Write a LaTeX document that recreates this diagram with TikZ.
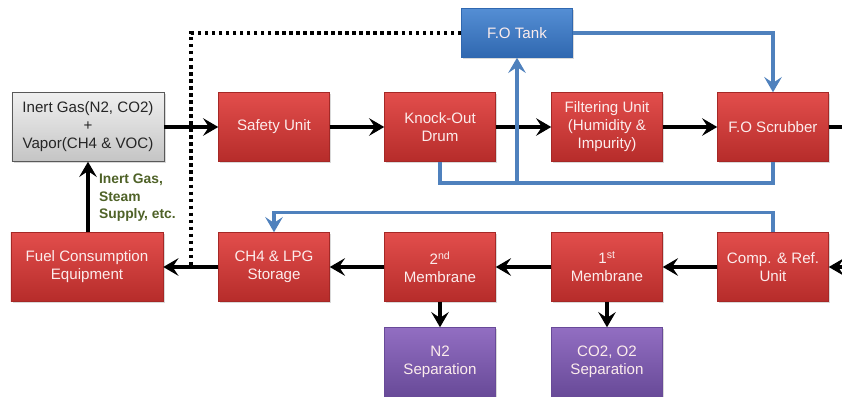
\documentclass[tikz,border=0pt]{standalone}
\usepackage{fontspec}
\setmainfont{Liberation Sans}
\usetikzlibrary{arrows.meta,positioning,shadows}
\definecolor{redtop}{RGB}{226,78,76}
\definecolor{redbot}{RGB}{182,44,42}
\definecolor{redline}{RGB}{165,40,38}
\definecolor{bluetop}{RGB}{84,142,212}
\definecolor{bluebot}{RGB}{48,104,176}
\definecolor{purptop}{RGB}{146,110,194}
\definecolor{purpbot}{RGB}{104,74,152}
\definecolor{flowblue}{RGB}{79,129,189}
\definecolor{olive}{RGB}{79,98,40}
\definecolor{boxtext}{RGB}{252,236,236}

\begin{document}
\begin{tikzpicture}[x=0.03cm,y=-0.03cm,
  unit/.style={draw=redline,line width=0.4pt,top color=redtop,bottom color=redbot,
    text=boxtext,minimum width=3.33cm,minimum height=2.07cm,align=center,
    font=\fontsize{12.9}{15.3}\selectfont,
    drop shadow={shadow xshift=1.5pt,shadow yshift=-1.5pt,opacity=0.3}},
  tankbox/.style={unit,draw=bluebot,top color=bluetop,bottom color=bluebot,minimum height=1.47cm},
  sepbox/.style={unit,draw=purpbot,top color=purptop,bottom color=purpbot},
  gasbox/.style={unit,draw=black!65,top color=white!94!black,bottom color=black!23,text=black!85,minimum width=4.56cm},
  arr/.style={line width=3.2pt,-{Stealth[length=13pt,width=15pt,inset=5pt]}},
  bline/.style={draw=flowblue,line width=3pt},
  barr/.style={bline,-{Stealth[length=13pt,width=15pt,inset=5pt]}},
  dots/.style={line width=3.2pt,dash pattern=on 3pt off 3pt}]

\useasboundingbox (0,0) rectangle (842,397);

% top row
\node[gasbox] (gas) at (88,127) {Inert Gas(N2, CO2)\\+\\Vapor(CH4 \& VOC)};
\node[unit] (safety) at (274,127) {Safety Unit};
\node[unit] (ko) at (440,127) {Knock-Out\\Drum};
\node[unit] (filter) at (607,127) {Filtering Unit\\(Humidity \&\\Impurity)};
\node[unit] (scrub) at (773,127) {F.O Scrubber};
\node[tankbox] (tank) at (517,33) {F.O Tank};

% bottom row
\node[unit,minimum width=4.56cm] (fuel) at (87,267) {Fuel Consumption\\Equipment};
\node[unit] (lpg) at (274,267) {CH4 \& LPG\\Storage};
\node[unit] (mem2) at (440,267) {2\textsuperscript{nd}\\Membrane};
\node[unit] (mem1) at (607,267) {1\textsuperscript{st}\\Membrane};
\node[unit] (comp) at (773,267) {Comp. \& Ref.\\Unit};
\node[sepbox] (n2sep) at (440,362) {N2\\Separation};
\node[sepbox] (co2sep) at (607,362) {CO2, O2\\Separation};

\node[text=olive,font=\fontsize{11.8}{15}\selectfont\bfseries,align=left,anchor=north west]
  (supply) at (95,170) {Inert Gas,\\Steam\\Supply, etc.};

\coordinate (outR) at (842,127);
\coordinate (inR) at (842,267);
\coordinate (bjoin) at (517,183);
\coordinate (dotend) at (191,267);

\draw[arr] (gas) -- (safety);
\draw[arr] (safety) -- (ko);
\draw[arr] (ko) -- (filter);
\draw[arr] (filter) -- (scrub);
\draw[line width=3.2pt] (scrub) -- (outR);

\draw[arr] (inR) -- (comp);
\draw[arr] (comp) -- (mem1);
\draw[arr] (mem1) -- (mem2);
\draw[arr] (mem2) -- (lpg);
\draw[arr] (lpg) -- (fuel);
\draw[arr] (mem2) -- (n2sep);
\draw[arr] (mem1) -- (co2sep);
\draw[arr] (fuel.north -| gas.south) -- (gas.south);

\draw[dots] (tank.west) -| (dotend);

\draw[barr] (tank.east) -| (scrub.north);
\draw[bline] (ko.south) |- (bjoin) -| (scrub.south);
\draw[barr] (bjoin) -- (tank.south);
\draw[barr] (comp.north) -- ++(0,-20) -| (lpg.north);

\end{tikzpicture}
\end{document}
